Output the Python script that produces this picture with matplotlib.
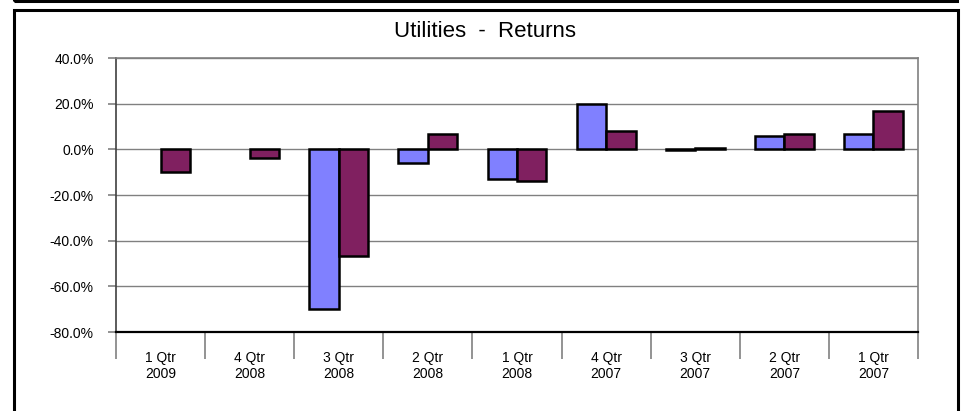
import numpy as np
import matplotlib
matplotlib.use("Agg")
import matplotlib.pyplot as plt
from matplotlib.patches import Rectangle
from matplotlib.ticker import FuncFormatter

# Data (percent returns)
quarters = ["1 Qtr\n2009", "4 Qtr\n2008", "3 Qtr\n2008", "2 Qtr\n2008", "1 Qtr\n2008",
            "4 Qtr\n2007", "3 Qtr\n2007", "2 Qtr\n2007", "1 Qtr\n2007"]
series_a = [np.nan, np.nan, -70.0, -5.8, -12.8, 19.7, -0.3, 5.7, 6.6]
series_b = [-10.1, -3.9, -46.8, 6.6, -13.7, 8.2, 0.5, 6.6, 16.9]
y_ticks = [-80, -60, -40, -20, 0, 20, 40]

plt.rcParams["font.family"] = ["Liberation Sans", "DejaVu Sans"]

W, H = 965, 411
fig = plt.figure(figsize=(W / 100, H / 100), dpi=100)

# axes placed by pixel box: left 116, right 918, top 58, bottom 332
ax = fig.add_axes([116 / W, (H - 332) / H, (918 - 116) / W, (332 - 58) / H])

x = np.arange(len(quarters))
bw = 0.33
ax.bar(x - bw / 2, series_a, bw, color="#8080FF", edgecolor="black", linewidth=1.8, zorder=3)
ax.bar(x + bw / 2, series_b, bw, color="#802060", edgecolor="black", linewidth=1.8, zorder=3)

ax.set_xlim(-0.5, len(quarters) - 0.5)
ax.set_ylim(-80, 40)
ax.set_yticks(y_ticks)
ax.yaxis.set_major_formatter(FuncFormatter(lambda v, p: f"{v:.1f}%"))
ax.yaxis.grid(True, color="#808080", linewidth=1.0, zorder=0)
ax.tick_params(axis="y", length=6, width=1.2, color="#808080", pad=10, labelsize=10)

# category labels at centers, separators at boundaries
ax.set_xticks(x)
ax.set_xticklabels(quarters, fontsize=10, linespacing=1.15)
ax.tick_params(axis="x", which="major", length=0, pad=14)
ax.set_xticks(np.arange(len(quarters) + 1) - 0.5, minor=True)
ax.tick_params(axis="x", which="minor", length=19.5, width=1.2, color="#808080")

for side in ["left", "top", "right"]:
    ax.spines[side].set_color("#808080")
    ax.spines[side].set_linewidth(1.2)
ax.spines["left"].set_color("#404040")
ax.spines["bottom"].set_color("black")
ax.spines["bottom"].set_linewidth(1.6)

ax.set_axisbelow(True)

# title
fig.text(485 / W, 1 - 37 / H, "Utilities  -  Returns", ha="center", va="baseline", fontsize=16)

# frames
def px(xp, yp):
    return xp / W, 1 - yp / H

lw = 2.2
fig.add_artist(Rectangle(px(13.5, 1.5), (956.5 - 13.5) / W, 40 / H, fill=False,
                         edgecolor="black", linewidth=lw, transform=fig.transFigure, clip_on=False))
fig.add_artist(Rectangle(px(13.5, 440), (957.5 - 13.5) / W, (440 - 10.5) / H, fill=False,
                         edgecolor="black", linewidth=lw, transform=fig.transFigure, clip_on=False))

fig.savefig("out.png", dpi=100)
